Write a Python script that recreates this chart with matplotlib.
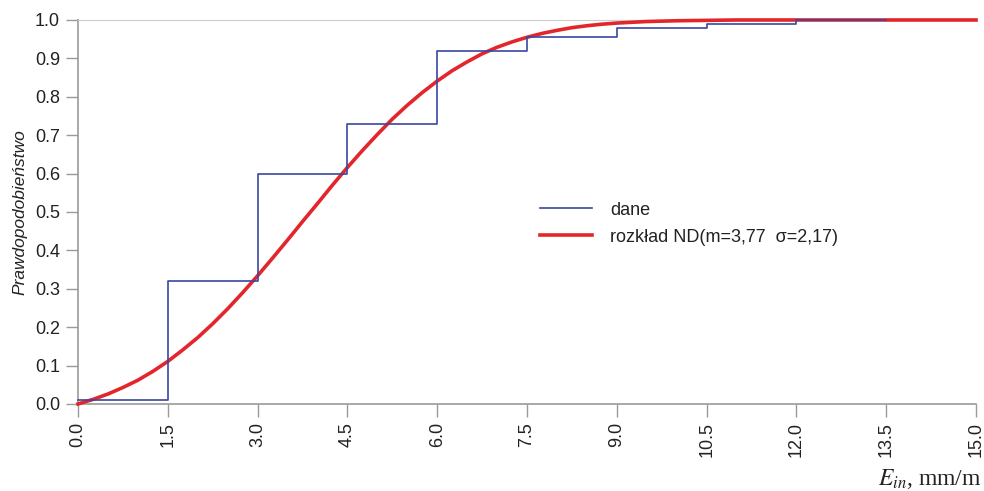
import numpy as np
import matplotlib
matplotlib.use("Agg")
import matplotlib.pyplot as plt

# dane: dystrybuanta empiryczna (schodkowa)
step_edges = [0.0, 1.5, 3.0, 4.5, 6.0, 7.5, 9.0, 10.5, 12.0, 13.5]
step_values = [0.01, 0.32, 0.60, 0.73, 0.92, 0.955, 0.98, 0.99, 1.0, 1.0]

# rozkład ND
curve_x = [0.0, 0.25, 0.5, 0.75, 1.0, 1.25, 1.5, 1.75, 2.0, 2.25, 2.5, 2.75,
           3.0, 3.25, 3.5, 3.75, 4.0, 4.25, 4.5, 4.75, 5.0, 5.25, 5.5, 5.75,
           6.0, 6.25, 6.5, 6.75, 7.0, 7.25, 7.5, 7.75, 8.0, 8.25, 8.5, 8.75,
           9.0, 9.5, 10.0, 10.5, 11.0, 11.5, 12.0, 13.0, 14.0, 15.0]
curve_y = [0.0, 0.012, 0.026, 0.043, 0.062, 0.085, 0.111, 0.141, 0.173,
           0.209, 0.248, 0.290, 0.334, 0.380, 0.427, 0.475, 0.522, 0.570,
           0.616, 0.660, 0.702, 0.742, 0.778, 0.811, 0.841, 0.868, 0.891,
           0.912, 0.929, 0.943, 0.955, 0.965, 0.973, 0.980, 0.985, 0.989,
           0.992, 0.996, 0.998, 0.999, 1.0, 1.0, 1.0, 1.0, 1.0, 1.0]

x_ticks = [0.0, 1.5, 3.0, 4.5, 6.0, 7.5, 9.0, 10.5, 12.0, 13.5, 15.0]
y_ticks = [0.0, 0.1, 0.2, 0.3, 0.4, 0.5, 0.6, 0.7, 0.8, 0.9, 1.0]

plt.rcParams['font.family'] = ['Liberation Sans', 'DejaVu Sans']
plt.rcParams['mathtext.fontset'] = 'stix'

fig = plt.figure(figsize=(9.84, 4.91), dpi=100)
ax = fig.add_axes([0.0793, 0.1772, 0.9126, 0.7821])

# niebieskie schodki na wierzchu (jak w oryginale)
ax.step(step_edges, step_values, where='post', color='#3a47a3', lw=1.2,
        label='dane', zorder=5, clip_on=False)
ax.plot(curve_x, curve_y, color='#e3262b', lw=2.6,
        label='rozkład ND(m=3,77  σ=2,17)', zorder=4, clip_on=False)

ax.set_xlim(0, 15)
ax.set_ylim(0, 1.0)
ax.set_xticks(x_ticks)
ax.set_xticklabels([f"{v:.1f}" for v in x_ticks], rotation=90)
ax.set_yticks(y_ticks)
ax.set_yticklabels([f"{v:.1f}" for v in y_ticks])
ax.tick_params(axis='both', direction='out', length=9, width=1,
               color='#9a9a9a', labelsize=13, labelcolor='#222222', pad=4)

for side in ['left', 'bottom']:
    ax.spines[side].set_color('#9a9a9a')
    ax.spines[side].set_linewidth(1.2)
ax.spines['top'].set_color('#cccccc')
ax.spines['right'].set_visible(False)

ax.set_ylabel('Prawdopodobieństwo', fontstyle='italic', fontsize=12.5,
              color='#222222', labelpad=5)

# opis osi X - dosunięty do prawej krawędzi
fig.text(0.998, 0.012, r'$E_{in}$, mm/m', family='Liberation Serif',
         fontsize=17, color='#222222', ha='right')

leg = ax.legend(loc='upper left', bbox_to_anchor=(0.504, 0.55),
                frameon=False, fontsize=13, handlelength=2.9,
                handletextpad=1.0, labelspacing=0.55, borderpad=0)
for t in leg.get_texts():
    t.set_color('#222222')

fig.savefig('out.png', dpi=100)
